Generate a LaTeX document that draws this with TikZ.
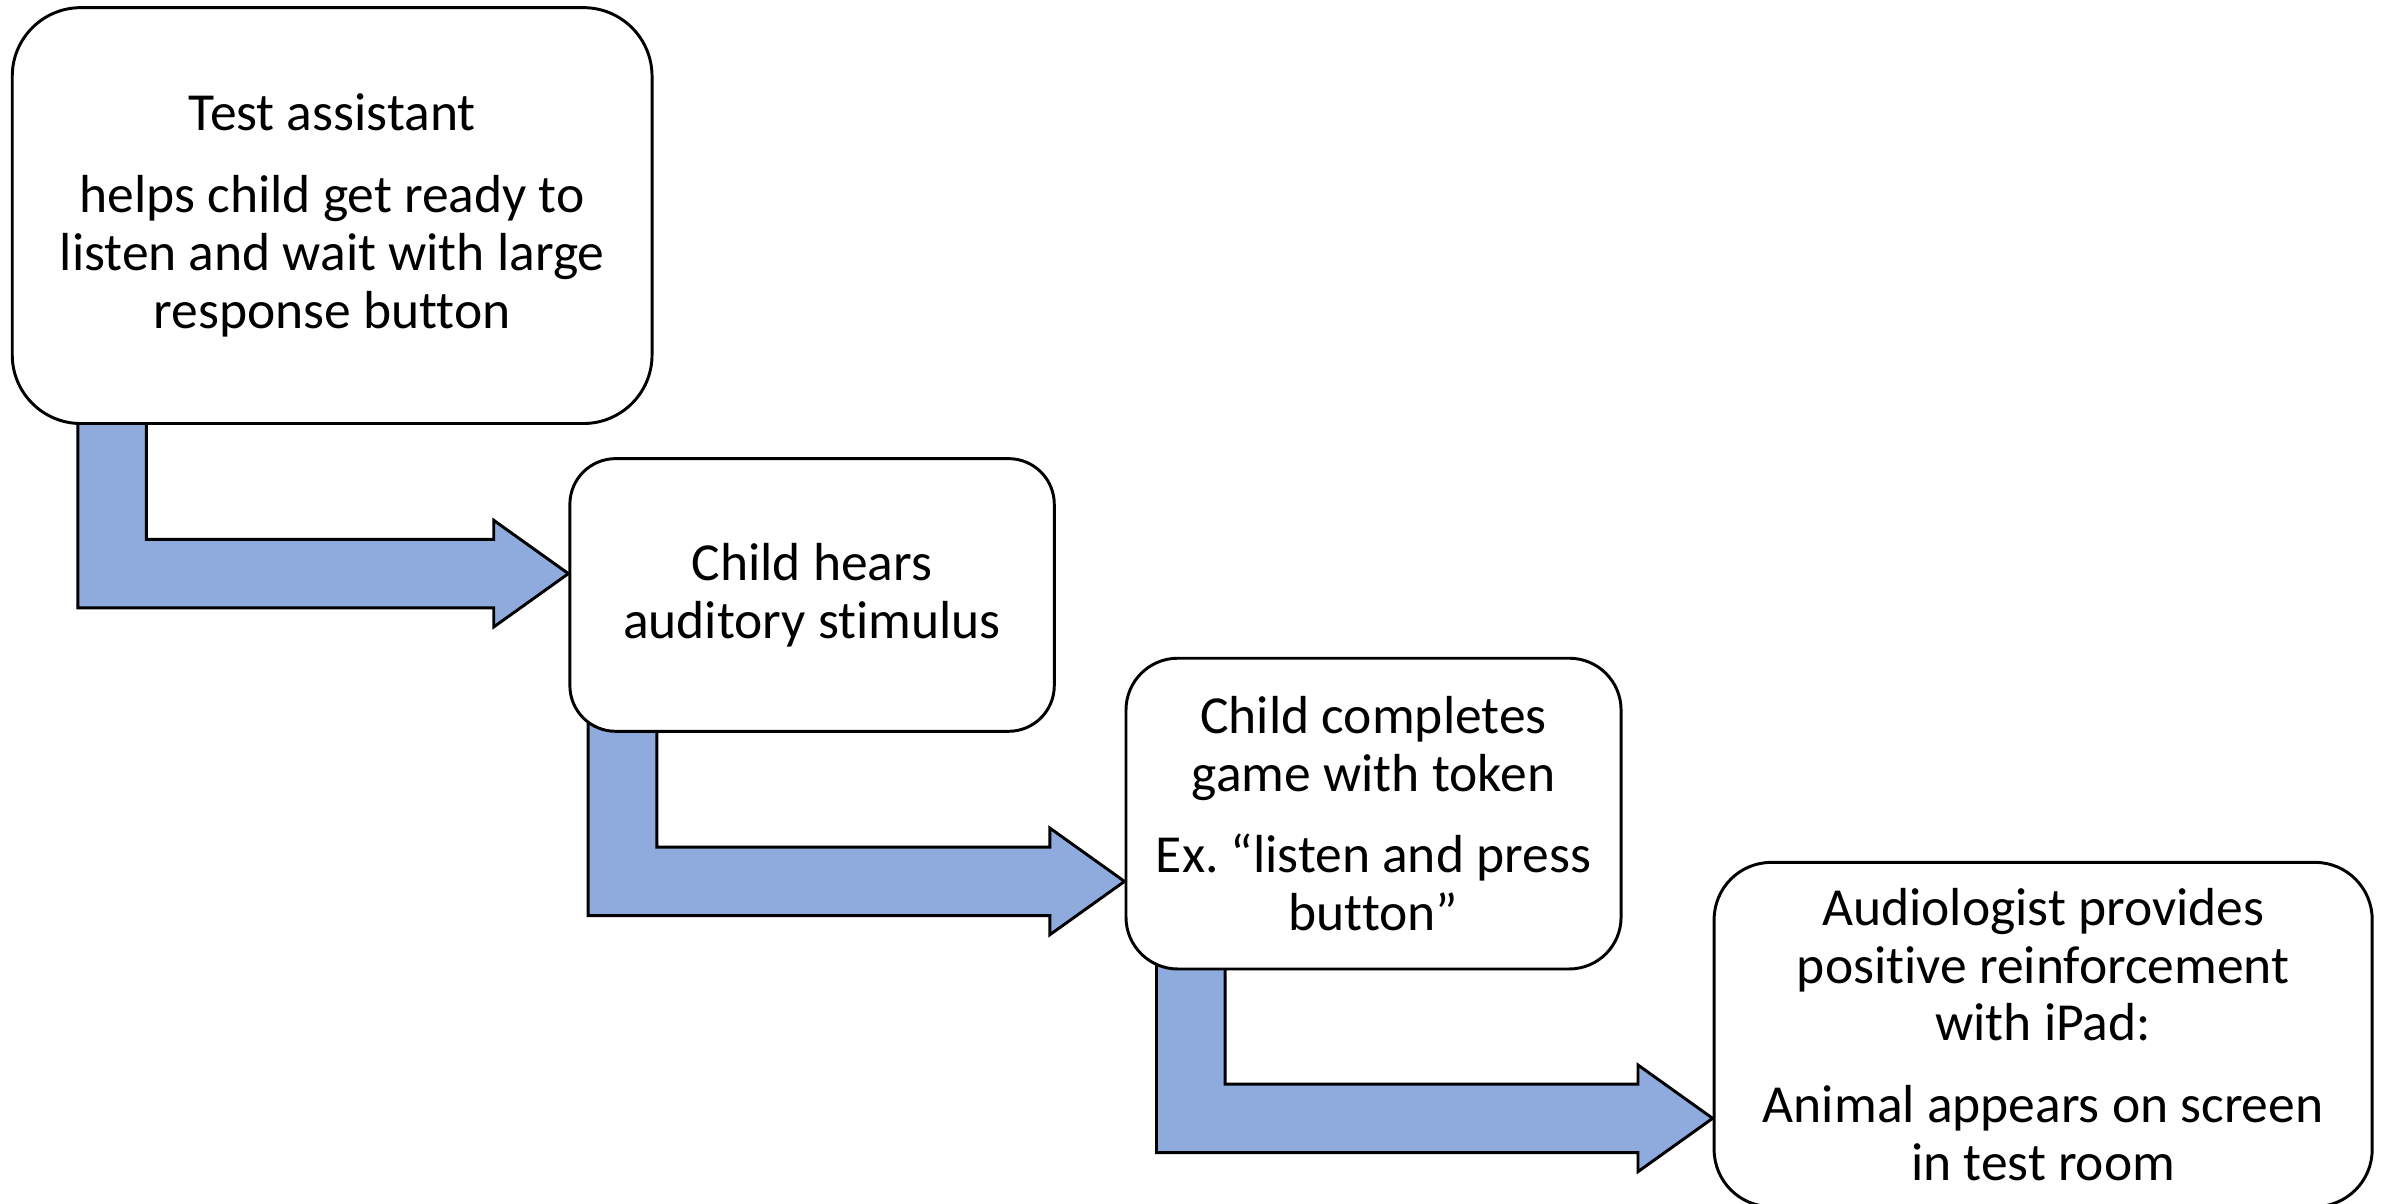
\documentclass[tikz,border=0pt]{standalone}
\usepackage{fontspec}
\setmainfont[Ligatures={TeX,NoCommon}]{Carlito}
\usetikzlibrary{calc,backgrounds}
\definecolor{arrowblue}{HTML}{8FAADC}
\tikzset{
  stepbox/.style={draw, line width=1.1pt, fill=white, align=center, inner sep=0pt,
    font=\fontsize{20}{21.6}\selectfont},
  blockarrow/.style={draw, line width=1.1pt, fill=arrowblue, line join=miter}
}
% bent block arrow: from node, to node, stem offset, tip offset
\newcommand{\bentarrow}[4]{%
  \coordinate (s) at ($(#1.south west)+(#3,-10)$);
  \coordinate (t) at ($(#2.west)+(0,#4)$);
  \draw[blockarrow] (s) -- ++(45,0) |- ($(t)+(-49,-22.5)$) -- ++(0,-12.5) -- (t)
    -- ($(t)+(-49,35)$) -- ++(0,-12.5) -| (s) -- cycle;}
\begin{document}
\begin{tikzpicture}[x=0.02cm,y=-0.02cm]
  \clip (0,0) rectangle (1568,790);
  \node[stepbox, minimum width=8.4cm, minimum height=5.46cm, rounded corners=0.9cm] (assist) at (218,141.5)
    {Test assistant\\[9pt] helps child get ready to\\ listen and wait with large\\ response button};
  \node[stepbox, minimum width=6.36cm, minimum height=3.58cm, rounded corners=0.6cm] (hears) at (533,390.5)
    {Child hears\\ auditory stimulus};
  \node[stepbox, minimum width=6.5cm, minimum height=4.08cm, rounded corners=0.68cm] (game) at (901.5,534)
    {Child completes\\ game with token\\[9pt] Ex.\ ``listen and press\\ button''};
  \node[stepbox, minimum width=8.64cm, minimum height=4.52cm, rounded corners=0.75cm] (reward) at (1341,679)
    {Audiologist provides\\ positive reinforcement\\ with iPad:\\[9pt] Animal appears on screen\\ in test room};
  \begin{pgfonlayer}{background}
    \bentarrow{assist}{hears}{44}{-14}
    \bentarrow{hears}{game}{13}{44.5}
    \bentarrow{game}{reward}{21}{55}
  \end{pgfonlayer}
\end{tikzpicture}
\end{document}
